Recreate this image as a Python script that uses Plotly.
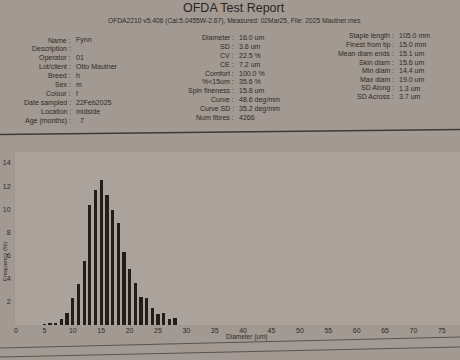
import plotly.graph_objects as go

# ---- data ----
diameters = list(range(5, 29))
percent = [0.05, 0.15, 0.2, 0.55, 1.0, 2.3, 3.55, 5.5, 10.4, 11.7, 12.55, 11.2,
           9.9, 8.8, 6.3, 4.8, 3.6, 2.4, 2.3, 1.5, 0.95, 1.0, 0.5, 0.6]
x_ticks = list(range(0, 80, 5))
y_ticks = list(range(2, 16, 2))

title = "OFDA Test Report"
subtitle = "OFDA2210 v5.406 (Cal:5.0455W-2.67), Measured: 02Mar25, File: 2025 Mautner.mes"

left_labels = ["Name", "Description", "Operator", "Lot/client", "Breed", "Sex",
               "Colour", "Date sampled", "Location", "Age (months)"]
left_values = ["Fynn", "", "01", "Otto Mautner", "h", "m", "f", "22Feb2025",
               "midside", "  7"]
mid_labels = ["Diameter", "SD", "CV", "CE", "Comfort", "%<15um", "Spin fineness",
              "Curve", "Curve SD", "Num fibres"]
mid_values = ["16.0 um", "3.6 um", "22.5 %", "7.2 um", "100.0 %", "35.6 %",
              "15.8 um", "48.6 deg/mm", "35.2 deg/mm", "4266"]
right_labels = ["Staple length", "Finest from tip", "Mean diam ends", "Skin diam",
                "Min diam", "Max diam", "SD Along", "SD Across"]
right_values = ["105.0 mm", "15.0 mm", "15.1 um", "15.6 um", "14.4 um",
                "19.0 um", "1.3 um", "3.7 um"]

W, H = 460, 360
PL, PR, PT, PB = 15, 460, 152, 325
FONT = "Liberation Sans, Arial, sans-serif"
INK = "#2f2a27"


def px(x):
    return (x - PL) / (PR - PL)


def py(y):
    return (PB - y) / (PB - PT)


fig = go.Figure()
fig.add_trace(go.Bar(x=diameters, y=percent, width=0.58,
                     marker=dict(color="#221d1b", line=dict(width=0))))

ann = []


def text(x, y, s, size=7, anchor="left", color=INK, angle=0):
    ann.append(dict(x=px(x), y=py(y), xref="paper", yref="paper", text=s,
                    showarrow=False, xanchor=anchor, yanchor="middle",
                    textangle=angle,
                    font=dict(family=FONT, size=size, color=color)))


text(234, 8, title, size=12.5, anchor="center", color="#2a2522")
text(234, 21, subtitle, size=6.7, anchor="center")


def column(colon_x, y0, step, labels, values):
    for i, (l, v) in enumerate(zip(labels, values)):
        y = y0 + i * step
        text(colon_x + 1.5, y, l + " :", anchor="right")
        text(colon_x + 3, y, v, anchor="left")


column(71, 40, 8.98, left_labels, left_values)
column(234, 37.7, 8.85, mid_labels, mid_values)
column(394, 36, 8.7, right_labels, right_values)

# axis titles
text(247, 337, "Diameter (um)", size=6.5, anchor="center")
text(5, 262, "Frequency (%)", size=6, anchor="center", angle=-90)

shapes = [
    dict(type="line", xref="paper", yref="paper", x0=px(0), y0=py(134.5),
         x1=px(460), y1=py(129.5), line=dict(color="#403833", width=1.5)),
    dict(type="line", xref="paper", yref="paper", x0=px(0), y0=py(348),
         x1=px(460), y1=py(337), line=dict(color="#5a524c", width=1.2)),
    dict(type="line", xref="paper", yref="paper", x0=px(0), y0=py(357),
         x1=px(460), y1=py(347), line=dict(color="#5a524c", width=1.2)),
]

fig.update_layout(
    width=W, height=H,
    margin=dict(l=PL, r=W - PR, t=PT, b=H - PB, pad=0),
    paper_bgcolor="#a29992",
    plot_bgcolor="#aaa29b",
    showlegend=False,
    annotations=ann,
    shapes=shapes,
    bargap=0,
    hovermode=False,
    font=dict(family=FONT, size=7, color=INK),
)
fig.update_xaxes(range=[-0.18, 78.2], tickvals=x_ticks, showgrid=False,
                 zeroline=False, showline=False, ticks="",
                 tickfont=dict(size=7, color=INK))
fig.update_yaxes(range=[0, 14.95], tickvals=y_ticks, showgrid=False,
                 zeroline=False, showline=True, linecolor="#9d958e",
                 mirror=True, ticks="", ticklabelstandoff=2,
                 tickfont=dict(size=7, color=INK))

fig.write_html(
    "out.html",
    config={"displayModeBar": False, "staticPlot": True},
    post_script="document.body.style.margin='0';document.body.style.background='#a29992';",
)
